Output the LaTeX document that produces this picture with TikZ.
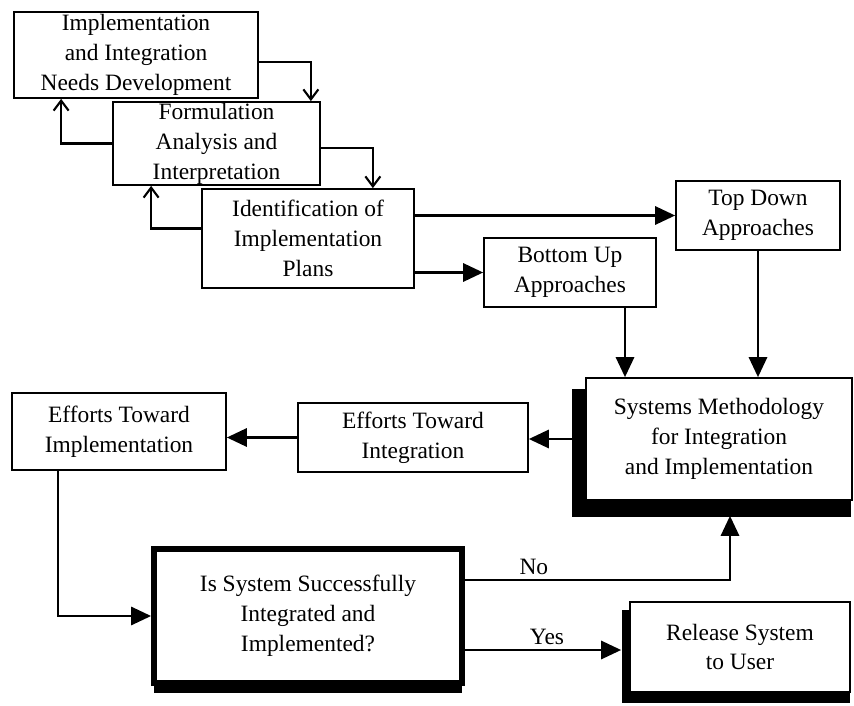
\documentclass[tikz,border=0pt]{standalone}
\usepackage{fontspec}
\setmainfont{Liberation Serif}
\usetikzlibrary{arrows.meta,shadows}

\begin{document}
\begin{tikzpicture}[x=0.03cm,y=-0.03cm,
  box/.style={draw, line width=1.5pt, fill=white, align=center, inner sep=0pt,
    font=\fontsize{20}{25.5}\selectfont},
  solid arrow/.style={line width=1.8pt, -{Triangle[length=0.6cm,width=0.55cm]}},
  open arrow/.style={line width=1.8pt, -{Straight Barb[length=0.3cm,width=0.45cm]}},
  heavy/.style n args={3}{drop shadow={shadow xshift=#1, shadow yshift=#2,
    shadow scale=#3, opacity=1, fill=black}}]
  \useasboundingbox (0,0) rectangle (854,706);

  % planning stages
  \node[box, minimum width=7.32cm, minimum height=2.58cm] (needs) at (136,55)
    {Implementation\\and Integration\\Needs Development};
  \node[box, minimum width=6.21cm, minimum height=2.49cm] (formul) at (216.5,143.5)
    {Formulation\\Analysis and\\Interpretation};
  \node[box, minimum width=6.36cm, minimum height=2.97cm] (ident) at (308,238.5)
    {Identification of\\Implementation\\Plans};
  \node[box, minimum width=4.92cm, minimum height=2.07cm] (topdown) at (758,215.5)
    {Top Down\\Approaches};
  \node[box, minimum width=5.16cm, minimum height=2.07cm] (bottomup) at (570,272.5)
    {Bottom Up\\Approaches};

  % methodology and efforts
  \node[box, minimum width=7.98cm, minimum height=3.66cm, heavy={-0.21cm}{-0.4cm}{1.05}]
    (method) at (719,439) {Systems Methodology\\for Integration\\and Implementation};
  \node[box, minimum width=6.9cm, minimum height=2.07cm] (integr) at (413,437.5)
    {Efforts Toward\\Integration};
  \node[box, minimum width=6.42cm, minimum height=2.31cm] (implem) at (119,431.5)
    {Efforts Toward\\Implementation};

  % test and release
  \node[box, line width=5pt, minimum width=9.24cm, minimum height=4.02cm, heavy={0cm}{-0.3cm}{1}]
    (success) at (308,616) {Is System Successfully\\Integrated and\\Implemented?};
  \node[box, minimum width=6.6cm, minimum height=2.7cm, heavy={-0.12cm}{-0.27cm}{1.036}]
    (release) at (740,647) {Release System\\to User};

  % feedback loops
  \draw[open arrow] ([yshift=-0.21cm]needs.east) -| ([xshift=-0.3cm]formul.north east);
  \draw[open arrow] ([yshift=-0.14cm]formul.east) -| ([xshift=-1.26cm]ident.north east);
  \draw[open arrow] (formul.west) -| ([xshift=1.44cm]needs.south west);
  \draw[open arrow] ([yshift=0.3cm]ident.west) -| ([xshift=1.17cm]formul.south west);

  \draw[solid arrow] (ident.east |- topdown.west) -- (topdown.west);
  \draw[solid arrow] (ident.east |- bottomup.west) -- (bottomup.west);
  \draw[solid arrow] ([xshift=1.65cm]bottomup.south) -- ([xshift=1.65cm]bottomup.south |- method.north);
  \draw[solid arrow] (topdown.south) -- (topdown.south |- method.north);
  \draw[solid arrow] (method.west) -- (method.west -| integr.east);
  \draw[solid arrow] (integr.west) -- (integr.west -| implem.east);
  \draw[solid arrow] ([xshift=-1.83cm]implem.south) |- (success.west);

  \draw[solid arrow, shorten >=0.45cm] ([yshift=1.08cm]success.east)
    -| node[pos=0.13, above, font=\fontsize{20}{25.5}\selectfont] {No}
    ([xshift=0.33cm]method.south);
  \draw[solid arrow, shorten >=0.24cm] ([yshift=-1.02cm]success.east)
    -- node[above, font=\fontsize{20}{25.5}\selectfont] {Yes}
    ([yshift=-1.02cm]success.east -| release.west);
\end{tikzpicture}
\end{document}
